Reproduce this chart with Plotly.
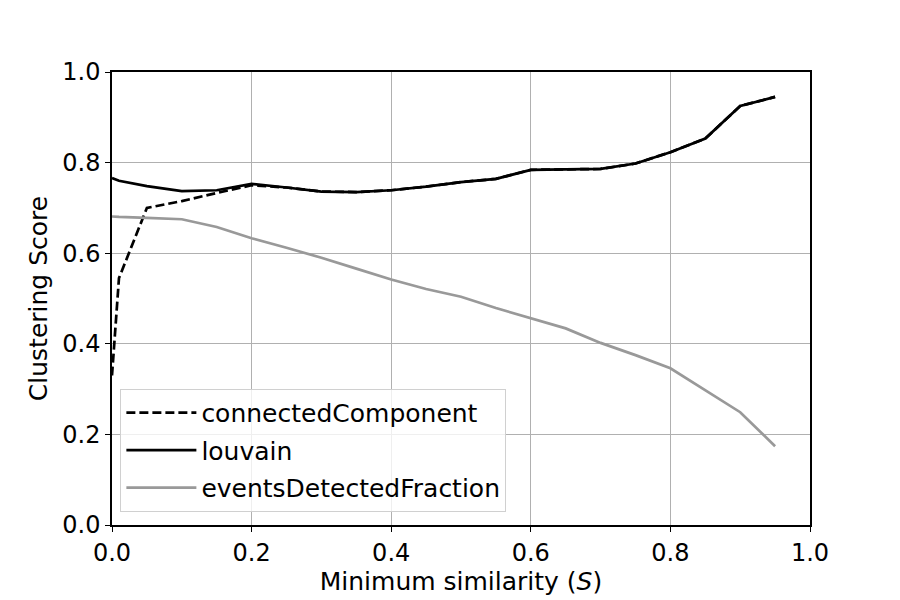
import plotly.graph_objects as go

# minimum similarity thresholds
similarity = [0.0, 0.01, 0.05, 0.1, 0.15, 0.2, 0.25, 0.3, 0.35, 0.4, 0.45,
              0.5, 0.55, 0.6, 0.65, 0.7, 0.75, 0.8, 0.85, 0.9, 0.95]

connected_component = [0.33, 0.545, 0.700, 0.715, 0.733, 0.750, 0.745, 0.736, 0.735, 0.739, 0.747,
                       0.757, 0.764, 0.784, 0.785, 0.786, 0.798, 0.823, 0.853, 0.925, 0.945]
louvain = [0.766, 0.760, 0.748, 0.737, 0.739, 0.753, 0.745, 0.736, 0.735, 0.739, 0.747,
           0.757, 0.764, 0.784, 0.785, 0.786, 0.798, 0.823, 0.853, 0.925, 0.945]
events_detected = [0.681, 0.680, 0.678, 0.675, 0.658, 0.633, 0.612, 0.590, 0.566, 0.542, 0.521,
                   0.504, 0.479, 0.456, 0.434, 0.402, 0.375, 0.346, 0.298, 0.249, 0.174]

font = dict(family="DejaVu Sans, sans-serif", size=24, color="black")
text_font = dict(family="DejaVu Sans, sans-serif", size=25, color="black")

fig = go.Figure()

fig.add_trace(go.Scatter(x=similarity, y=connected_component, mode='lines', name='connectedComponent',
                         legendgroup='a', line=dict(color='black', width=2.7, dash='9px,4px')))
fig.add_trace(go.Scatter(x=similarity, y=louvain, mode='lines', name='louvain',
                         legendgroup='b', line=dict(color='black', width=2.7)))
fig.add_trace(go.Scatter(x=similarity, y=events_detected, mode='lines', name='eventsDetectedFraction',
                         legendgroup='c', line=dict(color='#999999', width=2.7)))

axis_style = dict(
    showgrid=True, gridcolor='#b0b0b0', gridwidth=1,
    showline=True, linecolor='black', linewidth=1.5, mirror=True,
    ticks='outside', ticklen=5, tickcolor='black', tickwidth=1.2,
    zeroline=False, tickfont=font, tickformat='.1f', dtick=0.2,
)

fig.update_layout(
    width=900, height=600,
    font=font,
    plot_bgcolor='white', paper_bgcolor='white',
    margin=dict(l=104, r=98, t=64, b=83),
    xaxis=dict(range=[0, 1], title=dict(text='Minimum similarity (<i>S</i>)', font=text_font, standoff=6), **axis_style),
    yaxis=dict(range=[0, 1], title=dict(text='Clustering Score', font=text_font, standoff=8), **axis_style),
    legend=dict(x=0.012, y=0.029, xanchor='left', yanchor='bottom',
                bgcolor='rgba(255,255,255,0.8)', bordercolor='#d0d0d0', borderwidth=1,
                font=text_font, tracegroupgap=2, itemwidth=70),
    showlegend=True,
)

fig.write_html("out.html")
